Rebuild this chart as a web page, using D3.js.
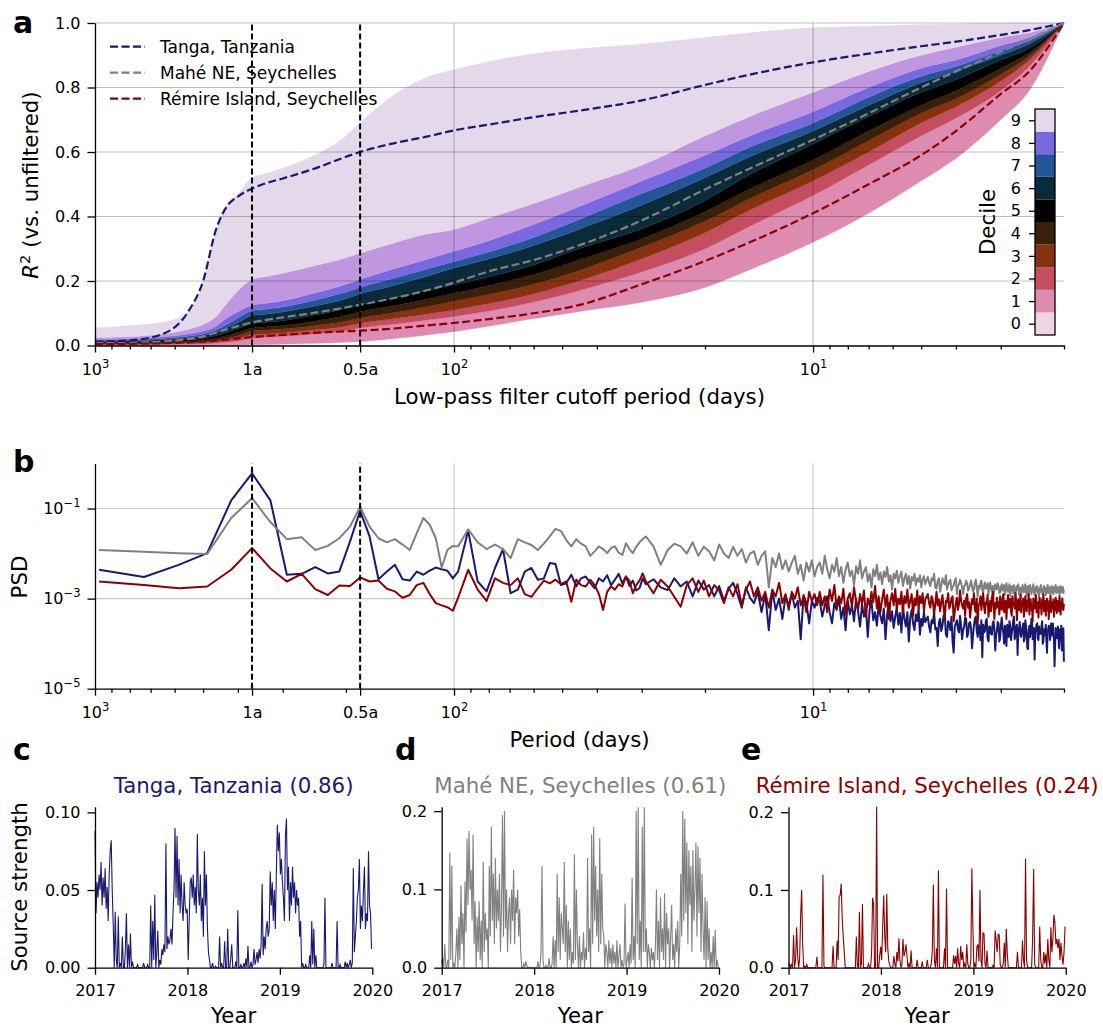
<!DOCTYPE html>
<html><head><meta charset="utf-8">
<script src="https://cdn.jsdelivr.net/npm/d3@7/dist/d3.min.js"></script>
<style>
html,body{margin:0;padding:0;background:#fff;}
svg text{font-family:"DejaVu Sans",sans-serif;}
</style></head>
<body>
<svg id="fig" width="1103" height="1027" xmlns="http://www.w3.org/2000/svg"></svg>
<script>
// ================= DATA =================
const stationNames  = ["Tanga, Tanzania", "Mahé NE, Seychelles", "Rémire Island, Seychelles"];
const stationScores = ["0.86", "0.61", "0.24"];
const stationColors = ["#191970", "#808080", "#8b0000"];

// ---- panel a : R^2 vs low-pass cutoff period ----
const cutoffPeriods = [1000,800,650,550,500,460,430,400,365,330,300,250,200,183,150,120,100,80,60,45,30,20,15,10,7,5,4,3,2.5,2];
const decileBounds = [
 [0.000,0.000,0.000,0.000,0.000,0.000,0.001,0.001,0.002,0.003,0.004,0.006,0.010,0.012,0.020,0.032,0.043,0.060,0.083,0.105,0.134,0.180,0.235,0.320,0.410,0.510,0.580,0.700,0.790,1],
 [0.002,0.002,0.003,0.004,0.005,0.007,0.010,0.014,0.023,0.026,0.029,0.035,0.046,0.054,0.065,0.078,0.090,0.107,0.135,0.170,0.228,0.300,0.370,0.465,0.560,0.650,0.705,0.790,0.865,1],
 [0.004,0.004,0.005,0.007,0.009,0.012,0.016,0.022,0.033,0.036,0.039,0.047,0.060,0.069,0.082,0.097,0.110,0.130,0.160,0.200,0.269,0.350,0.420,0.510,0.600,0.690,0.740,0.820,0.885,1],
 [0.006,0.006,0.008,0.010,0.012,0.016,0.022,0.030,0.045,0.048,0.051,0.060,0.075,0.085,0.100,0.119,0.137,0.158,0.190,0.232,0.305,0.385,0.455,0.545,0.635,0.720,0.765,0.840,0.897,1],
 [0.008,0.008,0.010,0.013,0.016,0.022,0.030,0.040,0.054,0.058,0.062,0.074,0.094,0.105,0.122,0.143,0.162,0.186,0.220,0.265,0.331,0.415,0.485,0.575,0.665,0.745,0.790,0.860,0.908,1],
 [0.010,0.011,0.014,0.018,0.022,0.030,0.040,0.053,0.067,0.072,0.077,0.092,0.115,0.126,0.146,0.169,0.188,0.213,0.250,0.300,0.362,0.450,0.530,0.625,0.710,0.785,0.825,0.885,0.922,1],
 [0.013,0.014,0.018,0.024,0.030,0.040,0.055,0.070,0.093,0.098,0.104,0.120,0.145,0.160,0.184,0.213,0.240,0.268,0.310,0.360,0.435,0.520,0.585,0.665,0.745,0.815,0.850,0.900,0.935,1],
 [0.016,0.017,0.022,0.029,0.036,0.048,0.065,0.085,0.108,0.113,0.119,0.138,0.166,0.180,0.206,0.236,0.260,0.290,0.335,0.390,0.471,0.550,0.615,0.690,0.770,0.835,0.865,0.915,0.945,1],
 [0.019,0.021,0.027,0.036,0.045,0.060,0.085,0.105,0.125,0.132,0.139,0.160,0.190,0.205,0.235,0.266,0.292,0.325,0.375,0.430,0.510,0.590,0.650,0.725,0.800,0.860,0.885,0.930,0.955,1],
 [0.025,0.028,0.036,0.050,0.065,0.090,0.130,0.170,0.205,0.215,0.224,0.245,0.272,0.286,0.315,0.345,0.360,0.395,0.440,0.490,0.559,0.650,0.710,0.785,0.850,0.900,0.925,0.955,0.970,1],
 [0.055,0.062,0.072,0.105,0.200,0.360,0.435,0.470,0.520,0.535,0.550,0.585,0.650,0.690,0.770,0.830,0.855,0.880,0.905,0.920,0.935,0.955,0.970,0.985,0.990,0.995,0.997,0.999,1.000,1]
];
const r2Tanga  = [0.012,0.016,0.035,0.105,0.200,0.360,0.430,0.462,0.487,0.505,0.518,0.545,0.585,0.600,0.625,0.647,0.667,0.685,0.708,0.728,0.760,0.808,0.840,0.878,0.905,0.928,0.942,0.963,0.978,1];
const r2Mahe   = [0.007,0.008,0.012,0.020,0.028,0.040,0.050,0.060,0.072,0.080,0.087,0.100,0.118,0.126,0.145,0.170,0.195,0.230,0.265,0.310,0.388,0.484,0.549,0.638,0.720,0.800,0.850,0.910,0.950,1];
const r2Remire = [0.004,0.005,0.007,0.010,0.012,0.015,0.018,0.022,0.026,0.030,0.033,0.039,0.044,0.046,0.052,0.062,0.070,0.082,0.100,0.125,0.190,0.262,0.320,0.410,0.500,0.590,0.665,0.780,0.850,1];
const decileLabels = ["0","1","2","3","4","5","6","7","8","9"];
const r2Ticks = [0,0.2,0.4,0.6,0.8,1.0];

// period axis (shared by a and b)
const markerPeriods = [365.25, 182.625];
const periodMajorTicks  = [1000, 365.25, 182.625, 100, 10];
const periodMajorLabels = ["10^3", "1a", "0.5a", "10^2", "10^1"];
const periodMinorTicks  = [900,800,700,600,500,400,300,200,90,80,70,60,50,40,30,20,9,8,7,6,5,4,3,2];
const periodGrid = [100, 10];

// ---- panel b : PSD (log10 values) at harmonics k of an 8-year record ----
const RECORD_DAYS = 2922;
const psdHarmonics = [].concat(d3.range(3,31), d3.range(32,101,2), d3.range(105,301,5), d3.range(305,601,5), d3.range(610,1461,5));
const psdTangaLog = [
 -2.36,-2.52,-2.25,-1.99,-0.82,-0.22,-0.82,-2.47,-2.45,-2.30,-2.44,-2.40,-1.73,-1.05,-1.62,-2.57,-2.40,-2.25,-2.57,-2.60,-2.40,-2.47,-2.38,-2.31,-2.35,-2.38,-2.55,-2.40,
 -1.49,-2.62,-2.84,-2.32,-1.90,-2.88,-2.80,-2.40,-2.32,-2.58,-2.55,-2.21,-2.23,-2.70,-2.66,-2.47,-2.73,-2.55,-2.51,-2.65,-2.77,-2.55,-2.62,-2.48,-2.70,-2.58,-2.45,-2.66,-2.51,-2.72,-2.60,-2.82,-2.77,-2.55,-2.68,
 -2.57,-2.75,-2.81,-2.55,-2.73,-2.62,-2.95,-2.60,-2.80,-2.70,-2.95,-2.72,-3.05,-2.78,-2.65,-2.90,-3.20,-2.75,-2.98,-3.10,-2.85,-3.30,-2.90,-3.70,-2.82,-3.25,-3.00,-3.45,-2.95,-3.15,-2.90,-3.20,-3.05,-3.90,-2.92,-3.10,-3.55,-3.05,-3.20,-2.98,
 -3.05,-3.40,-3.15,-2.95,-3.30,-3.55,-3.10,-3.25,-2.98,-3.45,-3.20,-3.70,-3.05,-3.35,-3.15,-3.50,-3.00,-3.28,-3.62,-3.12,
 -3.40,-3.18,-3.85,-3.25,-3.05,-3.48,-3.30,-3.60,-3.15,-3.38,-3.55,-3.22,-3.90,-3.35,-3.10,-3.50,-3.28,-3.65,-3.40,-3.20,
 -3.58,-3.32,-3.75,-3.18,-3.45,-3.62,-3.30,-3.95,-3.42,-3.25,-3.55,-3.70,-3.35,-3.50,-3.22,-3.80,-3.45,-3.60,-3.30,-3.52,
 -3.40,-3.62,-3.75,-3.48,-3.55,-3.30,-3.68,-3.65,-4.05,-3.52,-3.45,-3.72,-3.60,-3.38,-3.35,-3.80,-3.85,-3.50,-3.58,-3.70,
 -3.40,-3.95,-4.20,-3.62,-3.55,-3.48,-3.68,-3.75,-3.38,-3.60,-3.90,-3.70,-3.62,-3.42,-3.45,-3.85,-3.78,-3.55,-3.52,-3.66,
 -4.10,-3.82,-3.60,-3.45,-3.40,-3.72,-3.85,-3.58,-3.65,-3.92,-3.48,-4.30,-3.58,-3.75,-3.72,-3.50,-3.45,-3.88,-3.95,-3.62,
 -3.62,-3.78,-3.80,-3.55,-3.50,-3.70,-4.15,-3.82,-3.70,-3.52,-3.55,-3.95,-3.88,-3.60,-3.42,-3.65,-3.75,-4.00,-3.60,-3.72,
 -4.05,-3.58,-3.68,-3.85,-3.50,-3.62,-3.92,-3.78,-3.65,-3.48,-3.40,-3.90,-3.82,-3.62,-3.58,-4.25,-3.70,-3.66,-3.52,-3.80,
 -3.85,-3.72,-3.62,-3.55,-3.95,-3.88,-3.48,-3.62,-3.78,-4.10,-4.12,-3.70,-3.60,-3.85,-3.72,-3.45,-3.52,-3.90,-3.88,-3.65,
 -4.35,-3.75,-3.70,-3.58,-3.55,-3.88,-3.92,-3.62,-3.78,-3.70,-3.78,-3.60,-3.50,-4.00,-3.95,-3.68,-3.82,-3.75,-3.58,-3.90,
 -4.20,-3.72,-3.68,-3.60,-3.62,-3.92,-3.85,-3.55,-3.65,-3.80,-3.55,-3.82,-3.90,-4.50,-4.05,-3.65,-3.70,-3.75,-3.88,-3.62,
 -3.75,-4.10,-3.80,-3.68,-3.92,-3.60,-4.15,-3.72,-3.85,-3.66,-4.40];
const psdMaheLog = [
 -1.92,-1.96,-1.99,-2.01,-1.21,-0.77,-1.30,-1.68,-1.64,-1.92,-1.83,-1.66,-1.40,-0.96,-1.40,-1.66,-1.75,-1.68,-1.80,-1.92,-1.55,-1.21,-1.36,-1.66,-2.31,-1.92,-1.83,-1.84,
 -1.46,-1.75,-1.90,-1.80,-1.90,-2.10,-1.68,-1.75,-1.81,-1.92,-1.78,-1.62,-1.45,-1.50,-1.70,-1.84,-1.68,-1.78,-1.84,-2.05,-1.95,-1.84,-1.90,-1.99,-1.88,-1.84,-1.98,-2.03,-1.77,-1.90,-1.99,-1.85,-1.75,-1.68,-1.62,
 -1.84,-2.25,-1.92,-1.78,-1.84,-2.00,-1.75,-2.05,-1.85,-1.95,-2.15,-1.80,-2.00,-2.10,-1.85,-2.05,-1.90,-2.20,-2.00,-1.95,-2.25,-2.05,-1.95,-2.75,-2.10,-2.30,-2.00,-2.35,-2.15,-2.40,-2.20,-2.05,-2.45,-2.25,-2.60,-2.20,-2.40,-2.15,-2.50,-2.30,
 -2.20,-2.45,-2.05,-2.35,-2.55,-2.25,-2.40,-2.10,-2.50,-2.30,-2.65,-2.35,-2.20,-2.50,-2.38,-2.70,-2.28,-2.45,-2.15,-2.55,
 -2.40,-2.30,-2.62,-2.45,-2.75,-2.35,-2.50,-2.25,-2.58,-2.42,-2.68,-2.40,-2.52,-2.30,-2.62,-2.48,-2.80,-2.45,-2.55,-2.38,
 -2.65,-2.50,-2.40,-2.72,-2.55,-2.45,-2.68,-2.50,-2.78,-2.52,-2.60,-2.45,-2.70,-2.55,-2.62,-2.48,-2.75,-2.58,-2.50,-2.68,
 -2.52,-2.65,-2.72,-2.55,-2.60,-2.45,-2.75,-2.78,-2.60,-2.55,-2.85,-2.70,-2.55,-2.64,-2.68,-2.48,-2.80,-2.70,-2.62,-2.58,
 -2.82,-2.75,-2.70,-2.60,-2.55,-2.90,-2.72,-2.68,-2.58,-2.65,-2.75,-2.90,-2.72,-2.70,-2.60,-2.66,-2.82,-2.78,-2.68,-2.60,
 -2.72,-2.85,-2.80,-2.65,-2.58,-2.75,-2.95,-2.72,-2.78,-2.66,-2.60,-2.82,-2.86,-2.70,-2.64,-2.78,-2.75,-2.66,-2.90,-2.72,
 -2.64,-2.78,-2.84,-2.72,-2.96,-2.75,-2.68,-2.80,-2.78,-2.66,-2.72,-2.88,-2.86,-2.75,-2.68,-2.82,-2.76,-2.70,-2.92,-2.80,
 -2.66,-2.78,-2.85,-2.76,-2.68,-2.94,-2.80,-2.72,-2.78,-2.88,-2.70,-2.76,-2.92,-2.82,-2.72,-2.80,-2.68,-2.90,-2.85,-2.76,
 -2.96,-2.80,-2.70,-2.78,-2.86,-2.76,-2.68,-2.82,-2.94,-2.78,-2.72,-2.88,-2.80,-2.70,-2.76,-2.90,-2.82,-2.78,-2.68,-2.86,
 -2.92,-2.80,-2.74,-2.84,-2.72,-2.88,-2.78,-2.96,-2.80,-2.74,-2.70,-2.86,-2.80,-2.90,-2.78,-2.72,-2.84,-2.76,-2.92,-2.80,
 -2.78,-2.70,-2.88,-2.84,-2.74,-2.80,-2.94,-2.78,-2.72,-2.86,-2.80,-2.90,-2.74,-2.84,-2.78,-2.70,-2.88,-2.80,-2.86,-2.74,
 -2.84,-2.76,-2.92,-2.80,-2.72,-2.86,-2.76,-2.84,-2.74,-2.88,-2.80];
const psdRemireLog = [
 -2.62,-2.70,-2.77,-2.73,-2.36,-1.88,-2.33,-2.62,-2.45,-2.79,-2.92,-2.71,-2.72,-2.53,-2.62,-2.60,-2.78,-2.84,-2.98,-2.92,-2.70,-2.65,-2.90,-3.10,-3.15,-3.19,-3.27,-2.98,
 -2.36,-2.80,-3.05,-2.55,-2.65,-2.70,-2.55,-2.90,-2.96,-2.77,-2.60,-2.66,-2.58,-2.68,-2.62,-3.07,-2.58,-2.70,-2.73,-2.58,-2.70,-2.90,-3.25,-2.85,-2.73,-2.80,-2.68,-2.73,-2.51,-2.60,-2.88,-2.70,-2.60,-2.44,-2.62,
 -2.88,-2.58,-2.73,-2.96,-3.18,-2.70,-2.55,-2.85,-2.60,-2.95,-2.70,-2.82,-3.10,-2.75,-2.95,-2.68,-3.15,-2.80,-2.62,-2.95,-2.75,-3.05,-2.85,-3.20,-2.80,-2.95,-2.65,-3.10,-2.90,-3.25,-2.85,-3.00,-2.75,-3.15,-2.95,-3.30,-2.85,-3.05,-2.90,-3.15,
 -2.85,-3.15,-2.95,-3.30,-2.80,-3.05,-2.70,-3.20,-2.95,-3.10,-2.78,-3.35,-3.00,-2.88,-3.18,-2.75,-3.05,-3.25,-2.90,-3.12,
 -2.82,-3.40,-3.00,-3.15,-2.85,-3.08,-2.72,-3.22,-2.95,-3.30,-3.02,-2.80,-3.18,-2.92,-3.45,-3.05,-2.88,-3.15,-2.78,-3.25,
 -3.00,-3.12,-2.85,-3.32,-2.95,-3.10,-2.80,-3.20,-3.05,-2.90,-3.38,-3.00,-3.15,-2.82,-3.22,-2.95,-3.10,-2.88,-3.28,-3.02,
 -2.90,-3.10,-3.20,-2.95,-3.05,-3.35,-3.12,-2.85,-3.15,-3.02,-3.28,-3.08,-2.92,-3.20,-3.45,-3.05,-3.08,-2.88,-3.22,-3.15,
 -3.00,-2.95,-3.50,-3.30,-3.10,-2.98,-3.25,-3.12,-2.82,-3.05,-3.15,-3.22,-3.05,-3.38,-3.00,-2.90,-3.20,-3.08,-3.42,-3.18,
 -3.02,-3.12,-2.88,-3.25,-3.30,-3.00,-3.55,-3.15,-3.10,-2.95,-3.25,-3.05,-2.88,-3.18,-3.32,-3.08,-3.12,-2.92,-3.40,-3.20,
 -3.05,-3.28,-3.00,-2.85,-3.15,-3.45,-3.10,-3.22,-2.98,-3.18,-3.08,-3.35,-2.95,-3.12,-3.25,-3.02,-2.90,-3.30,-3.15,-3.05,
 -3.45,-3.12,-2.92,-3.20,-3.08,-3.00,-3.28,-3.38,-2.95,-3.15,-3.10,-3.22,-2.88,-3.05,-3.48,-3.18,-3.02,-3.25,-3.12,-2.92,
 -3.30,-3.08,-3.15,-3.00,-3.40,-3.22,-2.95,-3.12,-3.28,-3.05,-3.18,-2.90,-3.35,-3.10,-3.02,-3.25,-3.15,-3.50,-3.00,-3.12,
 -3.22,-3.05,-2.92,-3.30,-3.18,-3.08,-3.42,-3.10,-2.98,-3.20,-3.15,-3.35,-3.02,-3.12,-2.90,-3.28,-3.20,-3.05,-3.38,-3.10,
 -3.00,-3.25,-3.12,-3.45,-3.05,-3.18,-2.95,-3.30,-3.15,-3.08,-3.22,-3.02,-3.40,-3.12,-3.25,-2.98,-3.15,-3.32,-3.05,-3.20,
 -3.10,-3.28,-2.95,-3.18,-3.35,-3.08,-3.22,-3.00,-3.15,-3.25,-3.12];
const psdTickValues = [1e-1, 1e-3, 1e-5];
const psdTickLabels = ["10^\u22121", "10^\u22123", "10^\u22125"];

// ---- panels c-e : source strength time series (4-day samples from 2017-01-01) ----
const seriesStart = "2017-01-01";
const SAMPLE_DAYS = 4;
const yearTicks = ["2017-01-01","2018-01-01","2019-01-01","2020-01-01"];
const srcTanga = [
 0.088,0.035,0.055,0.045,0.06,0.05,0.068,0.04,0.058,0.045,
 0.064,0.038,0.052,0.03,0.06,0.075,0.082,0.05,0.028,0,
 0.036,0.005,0,0.033,0,0.003,0,0.02,0,0,
 0.012,0.035,0,0.015,0,0.022,0,0.004,0,0,
 0,0,0.002,0,0,0,0,0,0.003,0,
 0,0,0.002,0,0,0.04,0,0.03,0.005,0.047,
 0,0.01,0.024,0,0.005,0.002,0.012,0.008,0.015,0.01,
 0.08,0.012,0.02,0.015,0.018,0.025,0.015,0.035,0.05,0.09,
 0.045,0.085,0.04,0.07,0.035,0.06,0.04,0.03,0.055,0.04,
 0.035,0.038,0.005,0.03,0.055,0.058,0.045,0.06,0.04,0.052,
 0.035,0.086,0.05,0.04,0.06,0.03,0.045,0.02,0.075,0.04,
 0.06,0.025,0.01,0.005,0,0,0.003,0,0,0.001,
 0,0,0,0.02,0,0.003,0,0,0.017,0,
 0,0.025,0,0,0.006,0.015,0,0,0,0.004,
 0,0.037,0,0,0.002,0,0,0.003,0,0.006,
 0,0.014,0,0,0.004,0,0.002,0.012,0.002,0.005,
 0.01,0.003,0.012,0.006,0.015,0.054,0.008,0.02,0.012,0.025,
 0.03,0.02,0.025,0.062,0.04,0.055,0.03,0.05,0.025,0.06,
 0.092,0.075,0.087,0.06,0.07,0.055,0.045,0.03,0.085,0.096,
 0.05,0.065,0.03,0.055,0.04,0.065,0.045,0.055,0.035,0.05,
 0.04,0.045,0.02,0.03,0,0.003,0,0,0.002,0,
 0,0,0.008,0,0.03,0.002,0.025,0,0.008,0,
 0,0,0,0,0,0,0.002,0.045,0,0,
 0,0,0,0,0.003,0,0,0,0,0.03,
 0,0,0.002,0,0,0,0,0.004,0,0.003,
 0,0.002,0.005,0,0.003,0.064,0.01,0.02,0.03,0.045,
 0.05,0.07,0.025,0.04,0.03,0.05,0.065,0.025,0.035,0.03,
 0.075,0.04,0.035,0.012];
const srcMahe = [
 0.005,0.013,0,0.03,0.002,0,0.01,0,0.147,0.01,
 0.13,0,0.005,0,0.02,0.05,0,0.065,0.01,0.105,
 0.03,0.07,0,0.11,0.045,0.165,0.08,0.175,0.1,0.125,
 0.06,0.17,0.03,0.085,0,0.065,0.02,0.085,0.01,0.06,
 0,0.135,0.02,0.07,0.035,0.05,0,0.13,0.04,0.18,
 0.06,0.12,0.03,0.14,0.05,0.1,0.06,0.12,0.02,0.08,
 0.195,0.04,0.2,0.05,0.1,0.02,0.07,0.09,0.03,0.1,
 0.06,0.125,0.03,0.09,0.07,0.1,0.04,0.075,0.02,0,
 0,0.005,0,0.008,0.003,0,0,0.001,0,0,
 0,0,0,0,0,0.008,0,0.002,0.02,0.13,
 0.01,0,0,0.003,0,0,0.012,0,0,0.005,
 0.04,0,0.035,0,0.12,0.02,0.09,0.01,0.07,0.05,
 0.03,0.135,0.02,0.08,0,0.06,0.01,0.05,0,0.02,
 0.005,0.145,0.01,0.1,0.03,0,0.04,0,0.02,0.01,
 0.045,0,0.025,0.01,0.14,0.02,0.05,0,0.17,0.03,
 0.18,0.06,0.13,0.04,0.1,0.02,0.165,0.03,0.12,0.05,
 0.04,0,0.03,0.02,0,0.035,0.005,0.025,0,0.03,
 0.005,0.02,0,0.035,0,0.015,0.03,0,0.01,0,
 0.005,0.082,0,0.01,0.02,0,0.03,0.005,0.115,0.01,
 0.04,0,0.2,0.03,0.205,0.01,0.06,0,0.18,0.02,
 0.205,0.02,0.05,0,0.03,0.02,0,0.025,0.01,0.02,
 0,0.03,0.1,0.01,0.06,0,0.09,0.02,0.05,0.01,
 0.095,0,0.07,0.03,0.05,0,0.04,0.08,0.01,0.03,
 0,0.05,0.02,0.06,0,0.03,0.12,0.04,0.2,0.06,
 0.19,0.07,0.16,0.03,0.15,0.08,0.13,0.02,0.15,0.06,
 0.1,0.16,0.04,0.155,0.07,0.14,0.02,0.12,0.05,0.01,
 0.09,0,0.085,0.01,0.05,0,0.02,0,0.04,0,
 0.048,0,0.01,0];
const srcRemire = [
 0.003,0.005,0,0.004,0,0.042,0,0.01,0.052,0.015,
 0,0.012,0.068,0.1,0.03,0,0.002,0,0.004,0,
 0,0,0,0,0,0,0,0,0.014,0,
 0,0,0,0,0.12,0.002,0,0,0,0,
 0,0,0,0,0.028,0,0,0,0.035,0.01,
 0.092,0.093,0.108,0.065,0.04,0.02,0,0,0,0,
 0,0,0,0,0,0,0,0.04,0.002,0,
 0.072,0,0.005,0.082,0,0,0,0,0,0.005,
 0,0,0.018,0.09,0.082,0,0,0.207,0,0,
 0.015,0.027,0.01,0.055,0.093,0.04,0.02,0.095,0.025,0.008,
 0.003,0,0,0,0.015,0.005,0,0.02,0.008,0.038,
 0.01,0,0.005,0.037,0.015,0.02,0.03,0.015,0,0.005,
 0,0.022,0,0,0,0,0,0.01,0,0,
 0,0,0.008,0,0,0,0,0.01,0,0,
 0,0.005,0.022,0.107,0.01,0,0.025,0,0.125,0,
 0,0,0,0,0.025,0,0.102,0,0,0,
 0,0,0,0.016,0.005,0.015,0,0.025,0.005,0,
 0.028,0.01,0.02,0,0.005,0,0.03,0.005,0,0,
 0.01,0.128,0.055,0,0.005,0,0.027,0.03,0.008,0.1,
 0.01,0,0.045,0.044,0.005,0,0.022,0,0,0,
 0,0,0.003,0,0.048,0.035,0.02,0.043,0.042,0.005,
 0,0,0.005,0.032,0,0.05,0.018,0,0,0,
 0,0,0,0,0,0,0.02,0,0,0,
 0,0.035,0.01,0,0.14,0.01,0,0,0,0,
 0,0.038,0.127,0.005,0,0,0,0,0.053,0.01,
 0,0,0.02,0.005,0.018,0,0.037,0.01,0,0.052,
 0.02,0.037,0.068,0.058,0.03,0.037,0.025,0.037,0.01,0.032,
 0.015,0.004,0.02,0.053];

// ================= STYLE =================
const F = "DejaVu Sans";
const bandColors = ["#dd8bb1","#c44d5f","#87320f","#3a2009","#000000","#0b2a3a","#245599","#7a68df","#c196e1","#e5d8ea"];
const cbarColors = ["#ecd6e4","#dd8bb1","#c44d5f","#87320f","#3a2009","#000000","#0b2a3a","#245599","#7a68df","#e5d8ea"];
const LABEL_SIZE = 21.3;

const svg = d3.select("#fig");

function styleAxis(g, size) {
  g.attr("font-family", F).attr("font-size", size || 16);
  g.select(".domain").attr("stroke", "#000").attr("stroke-width", 1.3);
  g.selectAll(".tick line").attr("stroke", "#000").attr("stroke-width", 1.3);
  g.selectAll(".tick text").attr("fill", "#000");
}
function mathify(sel) {
  sel.each(function () {
    const t = d3.select(this); const s = t.text();
    if (s.indexOf("^") >= 0) {
      const parts = s.split("^");
      t.text(null);
      t.append("tspan").text(parts[0]);
      t.append("tspan").attr("dy", -7).attr("font-size", 11.5).text(parts[1]);
    }
  });
}
function label(x, y, s, o) {
  o = o || {};
  const t = svg.append("text").attr("x", x).attr("y", y).text(s)
    .attr("font-size", o.size || LABEL_SIZE).attr("fill", o.fill || "#000")
    .attr("text-anchor", o.anchor || "middle");
  if (o.weight) t.attr("font-weight", o.weight);
  if (o.rotate) t.attr("transform", `rotate(-90,${x},${y})`);
  return t;
}
function periodAxis(x, y0) {
  const g = svg.append("g").attr("transform", `translate(0,${y0})`)
    .call(d3.axisBottom(x).tickValues(periodMajorTicks).tickFormat((d, i) => periodMajorLabels[i]).tickSize(7).tickSizeOuter(0));
  styleAxis(g);
  g.selectAll(".tick text").attr("y", 29.5).attr("dy", null).call(mathify);
  const gm = svg.append("g").attr("transform", `translate(0,${y0})`)
    .call(d3.axisBottom(x).tickValues(periodMinorTicks).tickFormat(() => "").tickSize(4).tickSizeOuter(0));
  styleAxis(gm); gm.select(".domain").remove();
}

// ================= PANEL A =================
const xA = d3.scaleLog().domain([1000, 2]).range([95, 1064]);
const yA = d3.scaleLinear().domain([0, 1]).range([345.5, 23]);
const gA = svg.append("g");
bandColors.forEach((col, i) => {
  const area = d3.area().curve(d3.curveMonotoneX)
    .x(p => xA(p))
    .y0((p, j) => yA(decileBounds[i][j]))
    .y1((p, j) => yA(decileBounds[i + 1][j]));
  gA.append("path").attr("d", area(cutoffPeriods)).attr("fill", col).attr("stroke", col).attr("stroke-width", 0.3);
});
const gridA = gA.append("g").attr("stroke", "#000").attr("stroke-opacity", 0.25).attr("stroke-width", 1.1);
r2Ticks.slice(1).forEach(v => gridA.append("line").attr("x1", 95).attr("x2", 1064).attr("y1", yA(v)).attr("y2", yA(v)));
periodGrid.forEach(p => gridA.append("line").attr("x1", xA(p)).attr("x2", xA(p)).attr("y1", yA(0)).attr("y2", yA(1)));

[r2Tanga, r2Mahe, r2Remire].forEach((arr, i) => {
  const ln = d3.line().curve(d3.curveMonotoneX).x((d, j) => xA(cutoffPeriods[j])).y(d => yA(d));
  gA.append("path").attr("d", ln(arr)).attr("fill", "none").attr("stroke", stationColors[i])
    .attr("stroke-width", 2.2).attr("stroke-dasharray", "8,3.5");
});
markerPeriods.forEach(p => gA.append("line").attr("x1", xA(p)).attr("x2", xA(p)).attr("y1", yA(0)).attr("y2", yA(1))
  .attr("stroke", "#000").attr("stroke-width", 2).attr("stroke-dasharray", "6,3"));

periodAxis(xA, yA(0));
const axYA = svg.append("g").attr("transform", "translate(95,0)")
  .call(d3.axisLeft(yA).tickValues(r2Ticks).tickFormat(d3.format(".1f")).tickSize(7.5).tickPadding(7).tickSizeOuter(0));
styleAxis(axYA);

// legend
stationNames.forEach((n, i) => {
  const yy = 46.7 + i * 26;
  svg.append("line").attr("x1", 110).attr("x2", 145).attr("y1", yy).attr("y2", yy)
    .attr("stroke", stationColors[i]).attr("stroke-width", 2.2).attr("stroke-dasharray", "8,3.5");
  label(160, yy + 6, n, { size: 17, anchor: "start" });
});

// colorbar
const yCb = d3.scaleLinear().domain([0, 10]).range([335, 109]);
cbarColors.forEach((c, i) => svg.append("rect").attr("x", 1035).attr("y", yCb(i + 1)).attr("width", 20)
  .attr("height", yCb(i) - yCb(i + 1)).attr("fill", c));
svg.append("rect").attr("x", 1035).attr("y", 109).attr("width", 20).attr("height", 226)
  .attr("fill", "none").attr("stroke", "#000").attr("stroke-width", 1.3);
const axCb = svg.append("g").attr("transform", "translate(1035,0)")
  .call(d3.axisLeft(yCb).tickValues(d3.range(0.5, 10, 1)).tickFormat((d, i) => decileLabels[i]).tickSize(6).tickPadding(8).tickSizeOuter(0));
styleAxis(axCb); axCb.select(".domain").remove();
label(995, 222, "Decile", { rotate: true });

// axis labels a
label(579.5, 404, "Low-pass filter cutoff period (days)");
const yl = svg.append("text").attr("x", 38).attr("y", 185).attr("text-anchor", "middle").attr("font-size", LABEL_SIZE)
  .attr("transform", "rotate(-90,38,185)");
yl.append("tspan").attr("font-style", "italic").text("R");
yl.append("tspan").attr("dy", -8).attr("font-size", 14.5).text("2");
yl.append("tspan").attr("dy", 8).text(" (vs. unfiltered)");

// ================= PANEL B =================
const yB = d3.scaleLog().domain([1e-5, 1]).range([688.7, 463.5]);
const gB = svg.append("g");
const gridB = gB.append("g").attr("stroke", "#000").attr("stroke-opacity", 0.22).attr("stroke-width", 1.1);
psdTickValues.slice(0, 2).forEach(v => gridB.append("line").attr("x1", 95).attr("x2", 1064).attr("y1", yB(v)).attr("y2", yB(v)));
periodGrid.forEach(p => gridB.append("line").attr("x1", xA(p)).attr("x2", xA(p)).attr("y1", yB(1e-5)).attr("y2", yB(1)));
[psdTangaLog, psdMaheLog, psdRemireLog].forEach((arr, i) => {
  const ln = d3.line().x((d, j) => xA(RECORD_DAYS / psdHarmonics[j])).y(d => yB(Math.pow(10, d)));
  gB.append("path").attr("d", ln(arr)).attr("fill", "none").attr("stroke", stationColors[i])
    .attr("stroke-width", 2).attr("stroke-linejoin", "round");
});
markerPeriods.forEach(p => gB.append("line").attr("x1", xA(p)).attr("x2", xA(p)).attr("y1", yB(1e-5)).attr("y2", yB(1))
  .attr("stroke", "#000").attr("stroke-width", 2).attr("stroke-dasharray", "6,3"));
periodAxis(xA, yB(1e-5));
const axYB = svg.append("g").attr("transform", "translate(95,0)")
  .call(d3.axisLeft(yB).tickValues(psdTickValues).tickFormat((d, i) => psdTickLabels[i]).tickSize(7.5).tickPadding(7).tickSizeOuter(0));
styleAxis(axYB);
axYB.selectAll(".tick text").call(mathify);
label(579.5, 747, "Period (days)");
label(27, 577, "PSD", { rotate: true });

// ================= PANELS C-E =================
const t0 = d3.utcParse("%Y-%m-%d")(seriesStart);
const panels = [
  { x0: 95, x1: 372.3, data: srcTanga, top: 0.1036, ticks: [0, 0.05, 0.10], fmt: ".2f" },
  { x0: 441.7, x1: 719, data: srcMahe, top: 0.2055, ticks: [0, 0.1, 0.2], fmt: ".1f" },
  { x0: 788.5, x1: 1065.8, data: srcRemire, top: 0.207, ticks: [0, 0.1, 0.2], fmt: ".1f" }
];
const yearDates = yearTicks.map(d3.utcParse("%Y-%m-%d"));
panels.forEach((P, i) => {
  const x = d3.scaleUtc().domain([yearDates[0], yearDates[3]]).range([P.x0, P.x1]);
  const y = d3.scaleLinear().domain([0, P.top]).range([967.7, 806.8]);
  const ln = d3.line().x((d, j) => x(d3.utcDay.offset(t0, j * SAMPLE_DAYS))).y(d => y(d));
  svg.append("path").attr("d", ln(P.data)).attr("fill", "none").attr("stroke", stationColors[i]).attr("stroke-width", 1.1);
  const ax = svg.append("g").attr("transform", `translate(0,967.7)`)
    .call(d3.axisBottom(x).tickValues(yearDates).tickFormat(d3.utcFormat("%Y")).tickSize(7).tickSizeOuter(0));
  styleAxis(ax); ax.selectAll(".tick text").attr("y", 28).attr("dy", null);
  const ay = svg.append("g").attr("transform", `translate(${P.x0},0)`)
    .call(d3.axisLeft(y).tickValues(P.ticks).tickFormat(d3.format(P.fmt)).tickSize(7.5).tickPadding(7).tickSizeOuter(0));
  styleAxis(ay);
  label((P.x0 + P.x1) / 2, 793, `${stationNames[i]} (${stationScores[i]})`, { fill: stationColors[i] });
  label((P.x0 + P.x1) / 2, 1023, "Year");
});
label(27, 887, "Source strength", { rotate: true });

// panel letters
[["a", 13, 33], ["b", 13, 472], ["c", 13, 760], ["d", 395, 760], ["e", 741, 760]].forEach(l =>
  label(l[1], l[2], l[0], { size: 30, weight: "bold", anchor: "start" }));
</script>
</body></html>
